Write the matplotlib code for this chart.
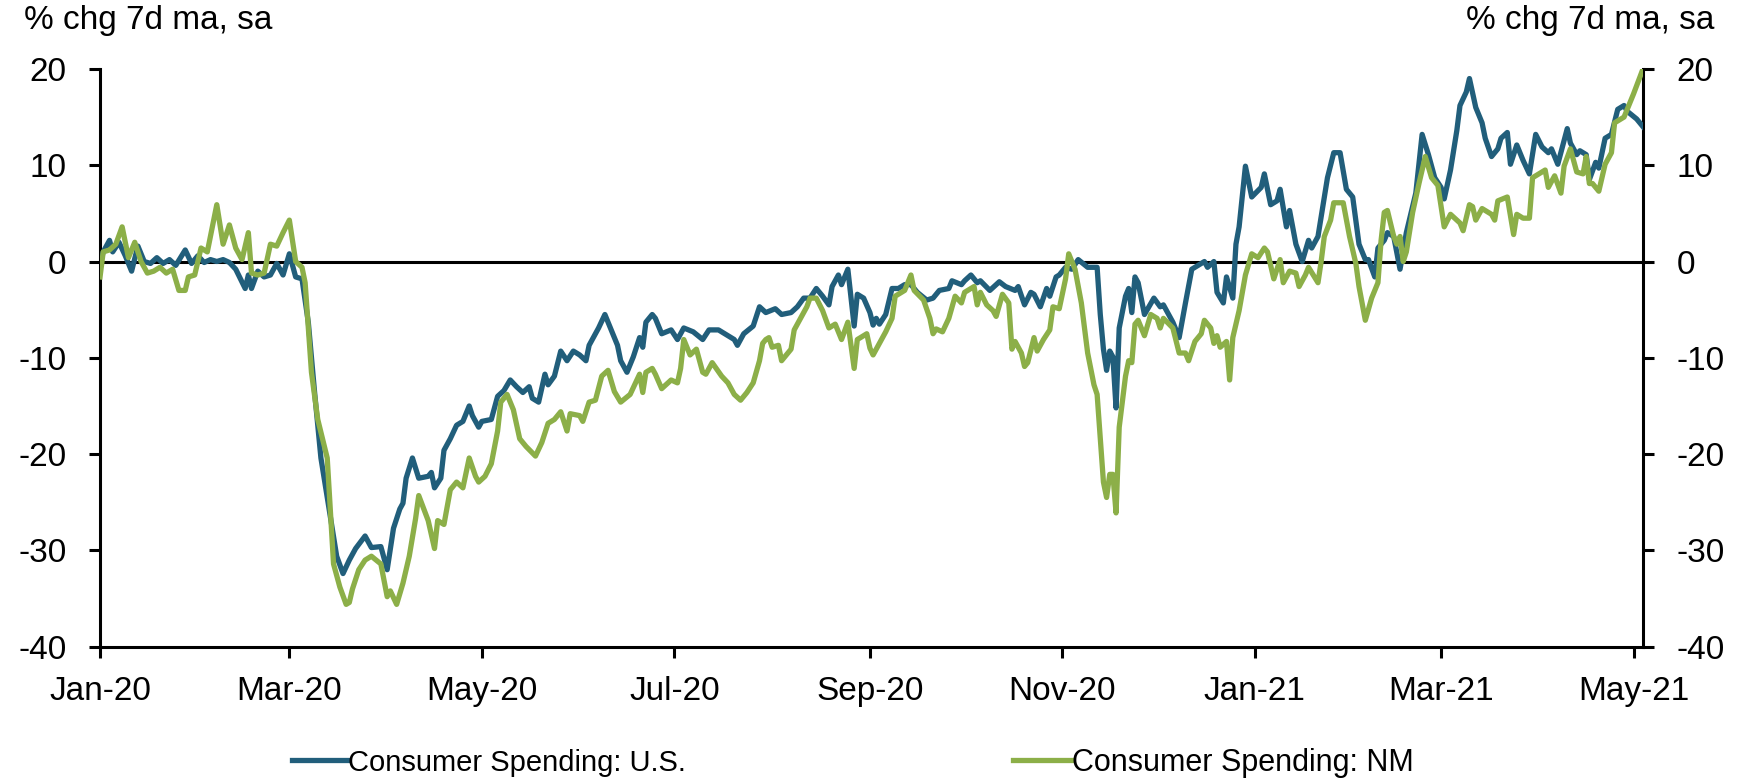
import pandas as pd
import matplotlib
matplotlib.use('Agg')
import matplotlib.pyplot as plt
import matplotlib.dates as mdates
from matplotlib.lines import Line2D

# Data: day offsets from 2020-01-01 (% chg 7d ma, sa)
START = pd.Timestamp('2020-01-01')

us_days = [0, 1, 3, 4, 6, 8, 10, 12, 14, 16, 18, 20, 22, 24, 27, 29, 31, 33, 35, 37,
           39, 41, 43, 46, 47, 48, 50, 52, 54, 56, 58, 60, 62, 64, 66, 68, 70, 73, 75, 77,
           79, 81, 84, 86, 89, 91, 93, 95, 96, 97, 99, 101, 104, 105, 106, 108, 109, 111, 113, 115,
           117, 118, 120, 121, 124, 126, 128, 130, 132, 134, 136, 137, 139, 141, 142, 144, 146, 148, 150, 152,
           154, 155, 158, 160, 162, 164, 165, 167, 169, 171, 172, 173, 175, 176, 178, 181, 183, 185, 188, 191,
           193, 196, 199, 201, 202, 204, 207, 209, 211, 214, 216, 219, 221, 223, 225, 227, 229, 231, 232, 234,
           235, 237, 239, 240, 242, 244, 245, 246, 247, 249, 251, 253, 255, 257, 259, 262, 264, 266, 269, 270,
           273, 274, 276, 278, 279, 282, 285, 287, 290, 291, 293, 295, 296, 298, 300, 301, 303, 304, 306, 308,
           310, 313, 316, 317, 318, 319, 320, 321, 322, 323, 325, 326, 327, 328, 329, 331, 334, 336, 337, 340,
           342, 344, 346, 348, 350, 351, 353, 354, 356, 357, 359, 360, 361, 363, 365, 368, 369, 371, 373, 374,
           376, 377, 379, 381, 383, 384, 386, 388, 389, 391, 393, 395, 397, 399, 401, 402, 404, 405, 407, 408,
           410, 412, 414, 417, 419, 421, 423, 425, 426, 428, 430, 431, 433, 434, 436, 438, 439, 441, 443, 444,
           446, 447, 449, 451, 453, 455, 457, 459, 460, 462, 465, 466, 468, 469, 471, 472, 474, 475, 477, 479,
           481, 483, 484, 487, 489]
us_vals = [-0.3, 1.0, 2.2, 1.0, 2.0, 0.6, -1.0, 1.6, 0.0, -0.2, 0.4, -0.2, 0.2, -0.4, 1.2, -0.2, 0.6, -0.1, 0.2, 0.0,
           0.2, -0.1, -0.8, -2.8, -1.4, -2.8, -1.0, -1.6, -1.4, -0.2, -1.4, 0.8, -1.6, -1.8, -6.3, -13.6, -20.4, -26.5, -30.6, -32.4,
           -31.0, -29.8, -28.5, -29.7, -29.6, -32.0, -27.7, -25.7, -25.1, -22.5, -20.4, -22.5, -22.3, -21.9, -23.5, -22.5, -19.6, -18.4, -17.0, -16.6,
           -15.0, -16.0, -17.2, -16.6, -16.4, -14.0, -13.4, -12.3, -13.0, -13.6, -13.0, -14.2, -14.6, -11.7, -12.8, -11.9, -9.3, -10.3, -9.3, -9.7,
           -10.3, -8.7, -6.9, -5.5, -7.1, -8.7, -10.3, -11.5, -9.9, -7.9, -8.9, -6.3, -5.5, -5.9, -7.5, -7.1, -8.1, -6.9, -7.3, -8.1,
           -7.1, -7.1, -7.7, -8.1, -8.7, -7.5, -6.7, -4.7, -5.3, -4.9, -5.5, -5.3, -4.7, -3.8, -3.8, -2.8, -3.6, -4.5, -2.6, -1.4,
           -2.4, -0.8, -6.7, -3.4, -3.8, -5.3, -6.6, -5.9, -6.5, -5.5, -2.8, -2.8, -2.4, -2.4, -3.2, -4.0, -3.8, -3.0, -2.8, -2.0,
           -2.4, -2.0, -1.4, -2.2, -2.0, -3.0, -2.1, -2.6, -3.0, -2.6, -4.5, -3.2, -3.4, -4.7, -2.8, -3.6, -1.6, -1.4, -0.6, -0.8,
           0.2, -0.6, -0.6, -5.5, -9.1, -11.3, -9.3, -9.9, -15.2, -6.9, -3.6, -2.8, -5.3, -1.6, -2.2, -5.5, -3.8, -4.7, -4.5, -6.3,
           -7.9, -4.3, -0.8, -0.4, 0.0, -0.6, 0.0, -3.2, -4.3, -1.6, -3.8, 1.8, 3.6, 9.9, 6.7, 7.7, 9.1, 5.9, 6.3, 7.5,
           3.6, 5.3, 1.8, 0.0, 2.2, 1.4, 2.6, 6.7, 8.7, 11.3, 11.3, 7.5, 6.7, 1.8, 0.2, 0.2, -1.6, 1.4, 2.2, 3.0,
           2.6, -0.8, 3.0, 7.1, 13.2, 11.1, 8.7, 7.7, 6.5, 9.5, 13.6, 16.2, 17.6, 19.0, 16.0, 14.4, 12.8, 10.9, 11.7, 12.8,
           13.4, 10.1, 12.1, 10.5, 9.1, 13.2, 11.9, 11.3, 11.7, 10.1, 13.8, 12.3, 11.1, 11.5, 11.1, 8.5, 10.3, 9.7, 12.8, 13.2,
           15.8, 16.2, 15.6, 14.8, 14.0]

nm_days = [0, 1, 3, 5, 7, 9, 11, 13, 15, 17, 19, 21, 23, 25, 27, 28, 30, 32, 34, 37,
           39, 41, 43, 45, 47, 48, 50, 52, 54, 56, 58, 60, 62, 64, 65, 67, 69, 72, 74, 76,
           78, 79, 80, 82, 84, 86, 89, 91, 92, 94, 96, 98, 100, 101, 104, 106, 107, 109, 111, 113,
           115, 117, 119, 120, 122, 124, 126, 127, 129, 131, 133, 135, 138, 140, 142, 144, 146, 148, 149, 152,
           153, 155, 157, 159, 161, 163, 165, 168, 171, 172, 173, 175, 176, 178, 181, 183, 184, 185, 187, 189,
           191, 192, 194, 197, 199, 201, 203, 205, 207, 209, 210, 211, 212, 213, 215, 216, 219, 220, 222, 224,
           225, 227, 229, 231, 233, 235, 237, 239, 240, 243, 244, 245, 247, 249, 251, 252, 255, 257, 258, 261,
           263, 264, 265, 267, 269, 271, 273, 274, 277, 278, 279, 281, 283, 284, 286, 288, 289, 290, 292, 293,
           294, 296, 297, 299, 301, 302, 304, 306, 307, 309, 311, 313, 315, 316, 318, 319, 320, 321, 322, 323,
           325, 326, 327, 328, 329, 331, 333, 335, 336, 337, 340, 342, 344, 345, 347, 349, 350, 352, 353, 354,
           355, 357, 358, 359, 361, 363, 365, 367, 369, 370, 372, 374, 375, 377, 379, 380, 382, 383, 386, 387,
           388, 390, 391, 394, 396, 398, 399, 401, 403, 405, 406, 407, 408, 410, 411, 412, 413, 414, 416, 418,
           420, 422, 424, 426, 428, 431, 432, 434, 435, 436, 438, 441, 442, 443, 446, 448, 449, 451, 453, 454,
           458, 459, 461, 463, 464, 466, 468, 470, 471, 472, 473, 475, 477, 479, 480, 483, 486, 489]
nm_vals = [-1.6, 1.0, 1.2, 1.8, 3.6, 0.4, 2.0, 0.0, -1.2, -1.0, -0.6, -1.2, -0.8, -3.0, -3.0, -1.6, -1.4, 1.4, 1.0, 5.9,
           1.8, 3.8, 1.4, 0.2, 3.0, -1.2, -1.4, -1.2, 1.8, 1.6, 3.0, 4.3, 0.0, -0.6, -2.2, -11.5, -16.4, -20.4, -31.4, -33.8,
           -35.6, -35.4, -34.0, -32.0, -31.0, -30.6, -31.4, -34.8, -34.2, -35.6, -33.4, -30.6, -26.7, -24.3, -26.9, -29.8, -26.9, -27.3, -23.7, -22.9,
           -23.5, -20.4, -22.3, -22.9, -22.3, -21.0, -17.6, -14.6, -13.8, -15.4, -18.4, -19.2, -20.2, -18.8, -16.8, -16.4, -15.6, -17.6, -15.8, -16.0,
           -16.6, -14.6, -14.4, -11.9, -11.3, -13.5, -14.6, -13.8, -11.7, -13.6, -11.5, -11.1, -11.7, -13.2, -12.3, -12.6, -11.1, -8.1, -9.7, -9.1,
           -11.5, -11.7, -10.5, -11.9, -12.6, -13.8, -14.4, -13.6, -12.6, -10.3, -8.5, -8.1, -7.9, -8.9, -8.7, -10.3, -9.1, -7.1, -5.9, -4.7,
           -3.8, -3.8, -5.1, -6.9, -6.5, -8.1, -6.3, -11.1, -8.1, -7.5, -9.0, -9.7, -8.5, -7.3, -5.9, -3.6, -3.0, -1.4, -3.0, -4.0,
           -5.9, -7.5, -7.0, -7.3, -5.9, -3.6, -4.3, -3.2, -2.6, -4.5, -3.2, -4.5, -5.1, -5.7, -3.4, -4.3, -9.1, -8.3, -9.5, -10.9,
           -10.5, -7.9, -9.3, -8.1, -7.1, -4.7, -4.9, -1.8, 0.8, -0.8, -4.3, -9.5, -12.8, -13.8, -22.9, -24.5, -22.1, -22.1, -26.1, -17.2,
           -11.9, -10.3, -10.5, -6.5, -6.1, -7.7, -5.5, -5.9, -6.9, -5.9, -6.9, -9.5, -9.5, -10.3, -8.3, -7.5, -6.1, -6.9, -8.5, -7.7,
           -8.9, -8.3, -12.3, -7.9, -5.1, -1.4, 0.8, 0.4, 1.4, 1.0, -1.8, 0.2, -2.2, -1.0, -1.2, -2.6, -1.4, -0.6, -2.2, 0.0,
           2.6, 4.3, 6.1, 6.1, 2.6, -0.2, -2.6, -6.1, -3.8, -2.2, 2.2, 5.1, 5.3, 2.6, 1.8, 2.6, 0.0, 1.0, 5.1, 8.1,
           10.9, 8.7, 7.9, 3.6, 4.9, 4.0, 3.2, 5.9, 5.7, 4.3, 5.5, 4.9, 4.3, 6.3, 6.7, 2.8, 4.9, 4.5, 4.5, 8.7,
           9.5, 7.7, 8.9, 7.1, 9.9, 11.7, 9.3, 9.1, 10.9, 8.1, 8.1, 7.3, 10.1, 11.3, 14.4, 15.0, 17.4, 20.0]

us_label = 'Consumer Spending: U.S.'
nm_label = 'Consumer Spending: NM'
unit_label = '% chg 7d ma, sa'

BLUE = '#215E7B'
GREEN = '#8CAF48'

us_dates = START + pd.to_timedelta(us_days, unit='D')
nm_dates = START + pd.to_timedelta(nm_days, unit='D')

plt.rcParams['font.family'] = ['Liberation Sans', 'DejaVu Sans']
plt.rcParams['axes.unicode_minus'] = False

fig = plt.figure(figsize=(17.46, 7.83), dpi=100)
ax = fig.add_axes([0.0573, 0.174, 0.8837, 0.738])

ax.plot(us_dates, us_vals, color=BLUE, linewidth=3.8, solid_joinstyle='round', zorder=3)
ax.plot(nm_dates, nm_vals, color=GREEN, linewidth=3.8, solid_joinstyle='round', zorder=4)
ax.axhline(0, color='black', linewidth=2.2, zorder=2)

ax.set_ylim(-40, 20)
ax.set_yticks(range(-40, 21, 10))
ax.set_xlim(START, us_dates[-1])
ax.xaxis.set_major_locator(mdates.MonthLocator(bymonth=[1, 3, 5, 7, 9, 11]))
ax.xaxis.set_major_formatter(mdates.DateFormatter('%b-%y'))

ax.spines['top'].set_visible(False)
for side in ['left', 'right', 'bottom']:
    ax.spines[side].set_linewidth(2.2)
ax.tick_params(axis='both', direction='out', length=8, width=2.2, labelsize=24)
ax.tick_params(axis='y', right=True, labelright=True, pad=16)
ax.tick_params(axis='x', pad=13)

fig.text(0.014, 0.974, unit_label, fontsize=24, ha='left', va='center')
fig.text(0.982, 0.974, unit_label, fontsize=24, ha='right', va='center')

# two separate legend entries, placed where the reference puts them
leg_us = fig.legend([Line2D([], [], color=BLUE, linewidth=3.8)], [us_label], loc='center left',
                    bbox_to_anchor=(0.167, 0.026), frameon=False, handlelength=1.9,
                    handletextpad=0.05, borderpad=0, borderaxespad=0, prop={'size': 21})
leg_nm = fig.legend([Line2D([], [], color=GREEN, linewidth=3.8)], [nm_label], loc='center left',
                    bbox_to_anchor=(0.580, 0.026), frameon=False, handlelength=1.9,
                    handletextpad=0.05, borderpad=0, borderaxespad=0, prop={'size': 22})

fig.savefig('out.png', dpi=100)
